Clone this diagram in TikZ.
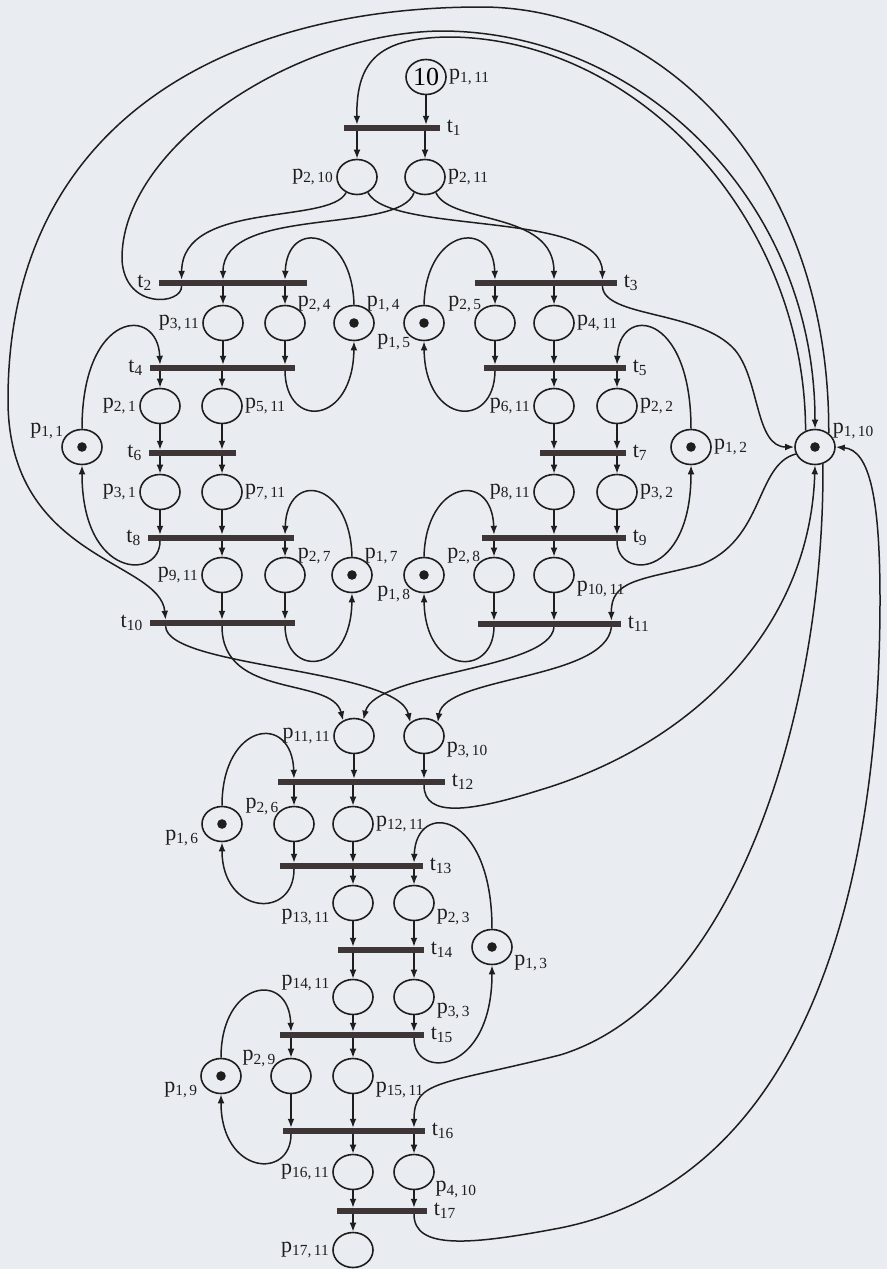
\documentclass[tikz,border=0pt]{standalone}
\usepackage{fontspec}
\setmainfont{Liberation Serif}
\usetikzlibrary{arrows.meta, shapes.geometric}
\definecolor{paper}{RGB}{233,236,240}
\definecolor{ink}{RGB}{30,30,30}
\definecolor{barink}{RGB}{62,54,54}
\newcommand{\plab}[2]{p\textsubscript{#1,\,#2}}
\newcommand{\tlab}[1]{t\textsubscript{#1}}

\begin{document}
\begin{tikzpicture}[x=0.5pt, y=-0.5pt,
  place/.style={draw=ink, line width=0.8pt, ellipse, minimum width=20pt,
    minimum height=17.5pt, inner sep=0pt},
  marked/.style={place, path picture={\fill[ink]
    (path picture bounding box.center) circle (2.4pt);}},
  trans/.style={fill=barink, minimum height=2.8pt, inner sep=0pt},
  lab/.style={font=\fontsize{11}{12}\selectfont, inner sep=1pt, text=ink},
  every label/.style={lab},
  arc/.style={draw=ink, line width=0.75pt, -{Latex[length=4.5pt, width=3.4pt]}}
]
  \path[use as bounding box, fill=paper] (0,0) rectangle (887,1269);

  % Places
  \node[place, label=right:\plab{1}{11}] (p1-11) at (426,77)
    {\fontsize{13}{13}\selectfont 10};
  \node[place, label=left:\plab{2}{10}] (p2-10) at (357,177) {};
  \node[place, label=right:\plab{2}{11}] (p2-11) at (425,177) {};

  \node[place, label=left:\plab{3}{11}] (p3-11) at (223,323) {};
  \node[place, label={[label distance=-3pt]40:\plab{2}{4}}] (p2-4) at (285,323) {};
  \node[marked, label={[label distance=-3pt]40:\plab{1}{4}}] (p1-4) at (354,323) {};
  \node[marked, label={[label distance=-3pt]220:\plab{1}{5}}] (p1-5) at (424,323) {};
  \node[place, label={[label distance=-3pt]140:\plab{2}{5}}] (p2-5) at (495,323) {};
  \node[place, label=right:\plab{4}{11}] (p4-11) at (554,323) {};

  \node[place, label=left:\plab{2}{1}] (p2-1) at (160,406) {};
  \node[place, label=right:\plab{5}{11}] (p5-11) at (222,406) {};
  \node[place, label=left:\plab{6}{11}] (p6-11) at (554,406) {};
  \node[place, label=right:\plab{2}{2}] (p2-2) at (617,406) {};

  \node[marked, label={[label distance=-2pt]160:\plab{1}{1}}] (p1-1) at (82,447) {};
  \node[marked, label=right:\plab{1}{2}] (p1-2) at (691,447) {};
  \node[marked, label={[label distance=-2pt]20:\plab{1}{10}}] (p1-10) at (815,447) {};

  \node[place, label=left:\plab{3}{1}] (p3-1) at (160,492) {};
  \node[place, label=right:\plab{7}{11}] (p7-11) at (222,492) {};
  \node[place, label=left:\plab{8}{11}] (p8-11) at (554,492) {};
  \node[place, label=right:\plab{3}{2}] (p3-2) at (617,492) {};

  \node[place, label=left:\plab{9}{11}] (p9-11) at (222,575) {};
  \node[place, label={[label distance=-3pt]40:\plab{2}{7}}] (p2-7) at (285,575) {};
  \node[marked, label={[label distance=-3pt]40:\plab{1}{7}}] (p1-7) at (352,575) {};
  \node[marked, label={[label distance=-3pt]220:\plab{1}{8}}] (p1-8) at (424,575) {};
  \node[place, label={[label distance=-3pt]140:\plab{2}{8}}] (p2-8) at (494,575) {};
  \node[place, label=-10:\plab{10}{11}] (p10-11) at (554,575) {};

  \node[place, label=left:\plab{11}{11}] (p11-11) at (354,736) {};
  \node[place, label=-10:\plab{3}{10}] (p3-10) at (424,736) {};

  \node[marked, label=190:\plab{1}{6}] (p1-6) at (222,824) {};
  \node[place, label={[label distance=-3pt]150:\plab{2}{6}}] (p2-6) at (294,824) {};
  \node[place, label=right:\plab{12}{11}] (p12-11) at (353,824) {};

  \node[place, label=190:\plab{13}{11}] (p13-11) at (353,903) {};
  \node[place, label=-10:\plab{2}{3}] (p2-3) at (414,903) {};
  \node[marked, label=-15:\plab{1}{3}] (p1-3) at (492,947) {};

  \node[place, label=170:\plab{14}{11}] (p14-11) at (353,997) {};
  \node[place, label=-10:\plab{3}{3}] (p3-3) at (414,997) {};

  \node[marked, label=190:\plab{1}{9}] (p1-9) at (221,1076) {};
  \node[place, label={[label distance=-3pt]150:\plab{2}{9}}] (p2-9) at (291,1076) {};
  \node[place, label=-10:\plab{15}{11}] (p15-11) at (353,1076) {};

  \node[place, label=left:\plab{16}{11}] (p16-11) at (353,1172) {};
  \node[place, label=-20:\plab{4}{10}] (p4-10) at (414,1172) {};
  \node[place, label=left:\plab{17}{11}] (p17-11) at (353,1250) {};

  % Transitions
  \node[trans, minimum width=48pt, label={[label distance=2pt]right:\tlab{1}}] (t1) at (392,128) {};
  \node[trans, minimum width=74pt, label={[label distance=2pt]left:\tlab{2}}] (t2) at (233,283) {};
  \node[trans, minimum width=71pt, label={[label distance=2pt]right:\tlab{3}}] (t3) at (546,283) {};
  \node[trans, minimum width=72.5pt, label={[label distance=2pt]left:\tlab{4}}] (t4) at (222.5,368) {};
  \node[trans, minimum width=71pt, label={[label distance=2pt]right:\tlab{5}}] (t5) at (555,368) {};
  \node[trans, minimum width=43.5pt, label={[label distance=2pt]left:\tlab{6}}] (t6) at (192.5,453) {};
  \node[trans, minimum width=43pt, label={[label distance=2pt]right:\tlab{7}}] (t7) at (583,453) {};
  \node[trans, minimum width=73pt, label={[label distance=2pt]left:\tlab{8}}] (t8) at (221,538) {};
  \node[trans, minimum width=72pt, label={[label distance=2pt]right:\tlab{9}}] (t9) at (554,538) {};
  \node[trans, minimum width=72.5pt, label={[label distance=2pt]left:\tlab{10}}] (t10) at (222.5,623) {};
  \node[trans, minimum width=71.5pt, label={[label distance=2pt]right:\tlab{11}}] (t11) at (549.5,624) {};
  \node[trans, minimum width=83.5pt, label={[label distance=2pt]right:\tlab{12}}] (t12) at (361.5,782) {};
  \node[trans, minimum width=71.5pt, label={[label distance=2pt]right:\tlab{13}}] (t13) at (351.5,866) {};
  \node[trans, minimum width=43pt, label={[label distance=2pt]right:\tlab{14}}] (t14) at (381,950) {};
  \node[trans, minimum width=72pt, label={[label distance=2pt]right:\tlab{15}}] (t15) at (352,1035) {};
  \node[trans, minimum width=71pt, label={[label distance=2pt]right:\tlab{16}}] (t16) at (354,1131) {};
  \node[trans, minimum width=45pt, label={[label distance=2pt]right:\tlab{17}}] (t17) at (382,1211) {};

  % Straight arcs, place -> transition
  \foreach \a/\b in {p1-11/t1, p3-11/t4, p2-4/t4, p2-5/t5, p4-11/t5,
      p2-1/t6, p5-11/t6, p6-11/t7, p2-2/t7, p3-1/t8, p7-11/t8,
      p8-11/t9, p3-2/t9, p9-11/t10, p2-7/t10, p2-8/t11, p10-11/t11,
      p11-11/t12, p3-10/t12, p2-6/t13, p12-11/t13, p13-11/t14, p2-3/t14,
      p14-11/t15, p3-3/t15, p2-9/t16, p15-11/t16, p16-11/t17, p4-10/t17}
    \draw[arc] (\a) -- (\a |- \b.north);

  % Straight arcs, transition -> place
  \foreach \a/\b in {t1/p2-10, t1/p2-11, t2/p3-11, t2/p2-4, t3/p2-5, t3/p4-11,
      t4/p2-1, t4/p5-11, t5/p6-11, t5/p2-2, t6/p3-1, t6/p7-11,
      t7/p8-11, t7/p3-2, t8/p9-11, t8/p2-7, t9/p2-8, t9/p10-11,
      t12/p2-6, t12/p12-11, t13/p13-11, t13/p2-3, t14/p14-11, t14/p3-3,
      t15/p2-9, t15/p15-11, t16/p16-11, t16/p4-10, t17/p17-11}
    \draw[arc] (\b |- \a.south) -- (\b);

  % Resource loops, place -> transition
  \draw[arc] (p1-4.north) .. controls (352,228) and (287,218) .. (t2.north -| p2-4);
  \draw[arc] (p1-5.north) .. controls (426,228) and (493,218) .. (t3.north -| p2-5);
  \draw[arc] (p1-1.north) .. controls (82,310) and (158,305) .. (t4.north -| p2-1);
  \draw[arc] (p1-2.north) .. controls (691,310) and (619,305) .. (t5.north -| p2-2);
  \draw[arc] (p1-7.north) .. controls (350,480) and (287,470) .. (t8.north -| p2-7);
  \draw[arc] (p1-8.north) .. controls (426,480) and (492,470) .. (t9.north -| p2-8);
  \draw[arc] (p1-6.north) .. controls (222,722) and (292,712) .. (t12.north -| p2-6);
  \draw[arc] (p1-3.north) .. controls (492,810) and (416,800) .. (t13.north -| p2-3);
  \draw[arc] (p1-9.north) .. controls (221,980) and (289,970) .. (t15.north -| p2-9);

  % Resource loops, transition -> place
  \draw[arc] (t4.south -| p2-4) .. controls (286,430) and (353,425) .. (p1-4.south);
  \draw[arc] (t5.south -| p2-5) .. controls (494,430) and (425,425) .. (p1-5.south);
  \draw[arc] (t8.south -| p3-1) .. controls (160,580) and (82,580) .. (p1-1.south);
  \draw[arc] (t9.south -| p3-2) .. controls (617,580) and (691,580) .. (p1-2.south);
  \draw[arc] (t10.south -| p2-7) .. controls (286,678) and (351,675) .. (p1-7.south);
  \draw[arc] (t11.south -| p2-8) .. controls (493,678) and (425,675) .. (p1-8.south);
  \draw[arc] (t13.south -| p2-6) .. controls (294,920) and (222,915) .. (p1-6.south);
  \draw[arc] (t15.south -| p3-3) .. controls (414,1080) and (492,1075) .. (p1-3.south);
  \draw[arc] (t16.south -| p2-9) .. controls (291,1180) and (221,1175) .. (p1-9.south);

  % Crossing arcs below t1
  \draw[arc] (p2-10.235) .. controls (330,225) and (182,200) .. ([xshift=11.5pt]t2.north west);
  \draw[arc] (p2-10.305) .. controls (390,235) and (602,210) .. ([xshift=-7.5pt]t3.north east);
  \draw[arc] (p2-11.235) .. controls (400,235) and (223,205) .. (t2.north -| p3-11);
  \draw[arc] (p2-11.305) .. controls (450,225) and (554,210) .. (t3.north -| p4-11);

  % Crossing arcs below t10 and t11
  \draw[arc] ([xshift=8pt]t10.south west) .. controls (167,668) and (398,668) .. (p3-10.135);
  \draw[arc] (t10.south -| p9-11) .. controls (222,700) and (332,676) .. (p11-11.125);
  \draw[arc] (t11.south -| p10-11) .. controls (550,670) and (375,672) .. (p11-11.60);
  \draw[arc] ([xshift=-5pt]t11.south east) .. controls (605,680) and (445,676) .. (p3-10.45);

  % Arcs of p1,10
  \draw[arc] ([xshift=11.5pt]t2.south west) .. controls (182,305) and (125,310) .. (122,260)
    .. controls (120,150) and (290,33) .. (441,31) .. controls (640,31) and (815,200) .. (p1-10.north);
  \draw[arc] (p1-10.120) .. controls (805,220) and (640,40) .. (452,37)
    .. controls (380,37) and (356,60) .. (t1.north -| p2-10);
  \draw[arc] (p1-10.45) .. controls (830,170) and (660,7) .. (481,7)
    .. controls (230,7) and (8,120) .. (8,400) .. controls (8,560) and (160,560) .. ([xshift=8pt]t10.north west);
  \draw[arc] ([xshift=-7.5pt]t3.south east) .. controls (604,318) and (700,310) .. (735,350)
    .. controls (760,380) and (755,447) .. (p1-10.west);
  \draw[arc] (p1-10.200) .. controls (755,465) and (765,540) .. (700,565)
    .. controls (640,580) and (611,580) .. ([xshift=-5pt]t11.north east);
  \draw[arc] (t12.south -| p3-10) .. controls (424,818) and (470,812) .. (540,790)
    .. controls (690,745) and (810,630) .. (p1-10.south);
  \draw[arc] (p1-10.-65) .. controls (825,700) and (740,1000) .. (560,1055)
    .. controls (440,1085) and (414,1080) .. (t16.north -| p4-10);
  \draw[arc] (t17.south -| p4-10) .. controls (414,1250) and (470,1245) .. (560,1228)
    .. controls (800,1180) and (880,900) .. (880,600) .. controls (880,500) and (870,450) .. (p1-10.east);
\end{tikzpicture}
\end{document}
